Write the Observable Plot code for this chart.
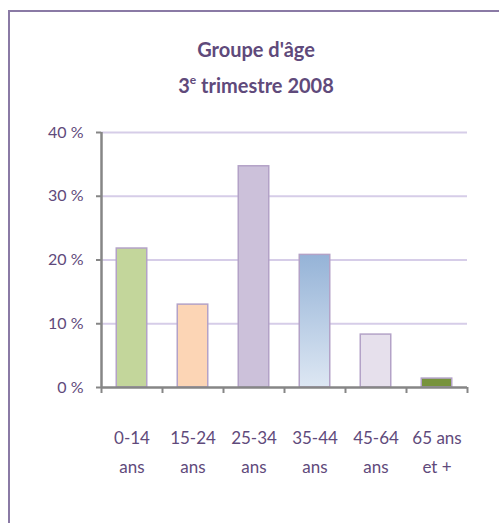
<!DOCTYPE html>
<html><head><meta charset="utf-8">
<script src="https://cdn.jsdelivr.net/npm/d3@7"></script>
<script src="https://cdn.jsdelivr.net/npm/@observablehq/plot@0.6"></script>
<style>
html,body{margin:0;padding:0;width:499px;height:523px;overflow:hidden;background:#fff;font-family:Lato,"Open Sans",sans-serif;}
#frame{position:absolute;left:8px;top:10px;width:600px;height:600px;border:2px solid #8a7aa5;box-sizing:border-box;}
#title{position:absolute;left:0;top:0;width:512px;height:110px;text-align:center;color:#5f4a7b;font-weight:bold;font-size:20px;}
#t1{position:absolute;left:0;right:0;top:37px;}
#t2{position:absolute;left:0;right:0;top:73px;}
#t2 sup{font-size:12px;position:relative;top:-1px;}
#chart{position:absolute;left:0;top:110px;}
</style></head>
<body>
<div id="frame"></div>
<div id="title"><div id="t1">Groupe d'âge</div><div id="t2">3<sup>e</sup> trimestre 2008</div></div>
<div id="chart"></div>
<script>
const categories = ["0-14\nans","15-24\nans","25-34\nans","35-44\nans","45-64\nans","65 ans\net +"];
const values = [21.8, 13.0, 34.7, 20.8, 8.3, 1.4];
const colors = ["#c3d69b","#fcd5b5","#ccc1da","url(#grad4)","#e6e0ec","#77933c"];
const yTicks = [0, 10, 20, 30, 40];

const data = categories.map((c, i) => ({cat: c, i, v: values[i], color: colors[i]}));

const defs = () => {
  const ns = "http://www.w3.org/2000/svg";
  const d = document.createElementNS(ns, "defs");
  d.innerHTML = `<linearGradient id="grad4" x1="0" y1="0" x2="0" y2="1">
    <stop offset="0" stop-color="#95b3d7"/><stop offset="1" stop-color="#dde7f3"/></linearGradient>`;
  return d;
};

const chart = Plot.plot({
  width: 499, height: 413,
  marginLeft: 101, marginRight: 32, marginTop: 22, marginBottom: 136,
  x: {domain: [0, 6], axis: null, label: null},
  y: {domain: [0, 40], axis: null, label: null},
  color: {type: "identity"},
  style: {fontFamily: "Lato, 'Open Sans', sans-serif", background: "transparent", overflow: "visible"},
  marks: [
    defs,
    Plot.ruleY(yTicks.filter(t => t > 0), {stroke: "#d6cde8", strokeWidth: 2}),
    Plot.rectY(data, {x1: d => d.i + 0.25, x2: d => d.i + 0.75, y1: 0, y2: "v", fill: "color", stroke: "#b3a2c7", strokeWidth: 1.5}),
    Plot.axisY({ticks: yTicks, tickSize: 5, tickFormat: () => "", label: null, stroke: "#868686", strokeWidth: 2}),
    Plot.text(yTicks, {x: 0, y: d => d, text: d => d + " %", textAnchor: "end", dx: -18, fill: "#5f4a7b", fontSize: 16}),
    Plot.axisX({ticks: d3.range(0, 7), tickSize: 6, tickFormat: () => "", label: null, stroke: "#868686", strokeWidth: 2}),
    Plot.ruleX([0], {y1: 0, y2: 40, stroke: "#868686", strokeWidth: 2.5}),
    Plot.ruleY([0], {stroke: "#868686", strokeWidth: 2.5}),
    Plot.text(data, {x: d => d.i + 0.5, y: 0, text: "cat", dy: 35, lineAnchor: "top", lineHeight: 1.75, fontSize: 17, fill: "#5f4a7b"})
  ]
});
document.getElementById("chart").appendChild(chart);
</script>
</body></html>
